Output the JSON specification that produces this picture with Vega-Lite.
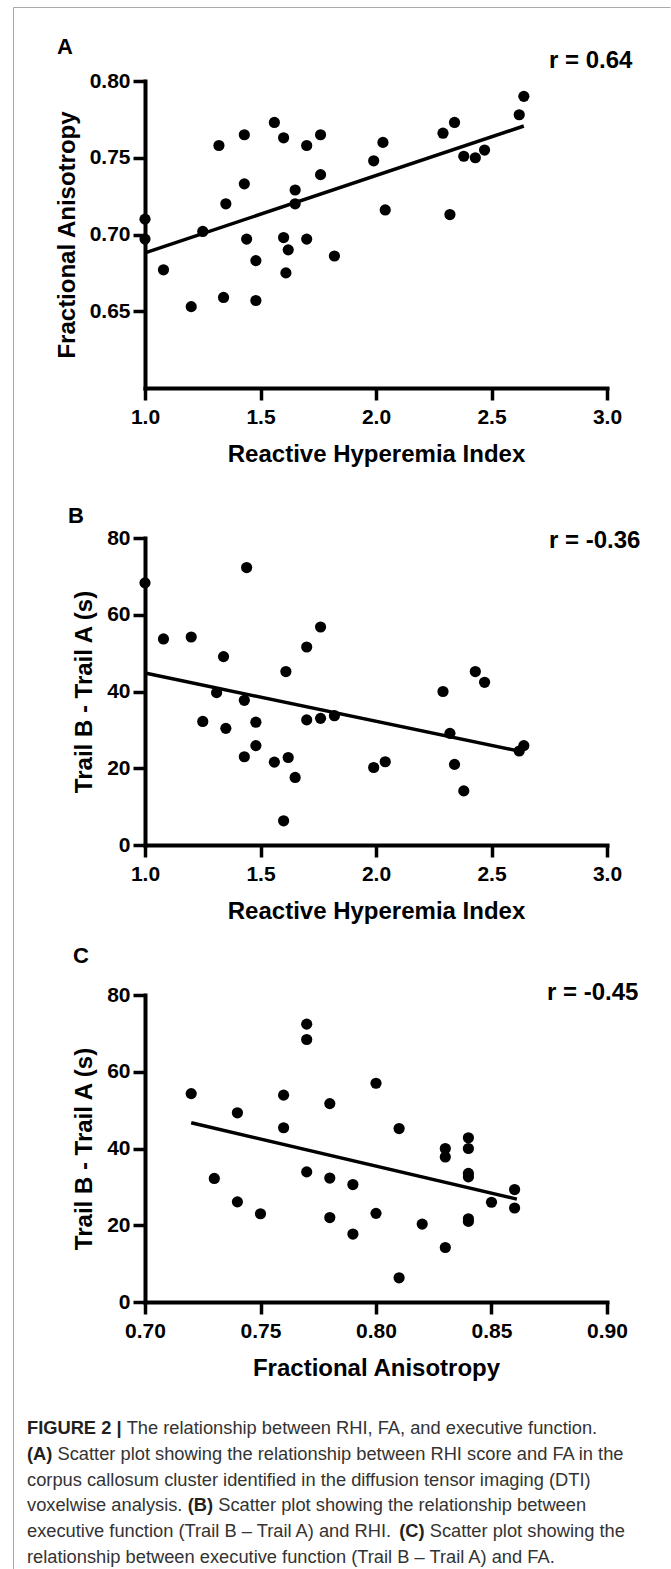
{
  "$schema": "https://vega.github.io/schema/vega-lite/v6.json",
  "background": "white",
  "padding": {"left": 13, "top": 6, "right": 0, "bottom": 0},
  "bounds": "flush",
  "spacing": 150,
  "config": {
    "font": "Liberation Sans",
    "view": {"stroke": null},
    "axis": {
      "domainColor": "black", "domainWidth": 4, "domainCap": "square",
      "tickColor": "black", "tickWidth": 3.5, "tickSize": 12,
      "labelFont": "Liberation Sans", "labelFontSize": 21, "labelFontWeight": "bold", "labelColor": "black",
      "titleFont": "Liberation Sans", "titleFontSize": 24, "titleFontWeight": "bold", "titleColor": "black",
      "grid": false, "labelFlush": false, "labelOverlap": false
    },
    "axisX": {"labelPadding": 6, "titlePadding": 15},
    "axisY": {"labelPadding": 3, "titlePadding": 10}
  },
  "datasets": {
    "a": [
      {"rhi": 1.0, "fa": 0.710}, {"rhi": 1.0, "fa": 0.697}, {"rhi": 1.08, "fa": 0.677}, {"rhi": 1.20, "fa": 0.653},
      {"rhi": 1.25, "fa": 0.702}, {"rhi": 1.32, "fa": 0.758}, {"rhi": 1.35, "fa": 0.720}, {"rhi": 1.34, "fa": 0.659},
      {"rhi": 1.43, "fa": 0.765}, {"rhi": 1.43, "fa": 0.733}, {"rhi": 1.44, "fa": 0.697}, {"rhi": 1.48, "fa": 0.683},
      {"rhi": 1.48, "fa": 0.657}, {"rhi": 1.56, "fa": 0.773}, {"rhi": 1.60, "fa": 0.763}, {"rhi": 1.60, "fa": 0.698},
      {"rhi": 1.62, "fa": 0.690}, {"rhi": 1.61, "fa": 0.675}, {"rhi": 1.65, "fa": 0.729}, {"rhi": 1.65, "fa": 0.720},
      {"rhi": 1.70, "fa": 0.758}, {"rhi": 1.70, "fa": 0.697}, {"rhi": 1.76, "fa": 0.765}, {"rhi": 1.76, "fa": 0.739},
      {"rhi": 1.82, "fa": 0.686}, {"rhi": 1.99, "fa": 0.748}, {"rhi": 2.03, "fa": 0.760}, {"rhi": 2.04, "fa": 0.716},
      {"rhi": 2.29, "fa": 0.766}, {"rhi": 2.34, "fa": 0.773}, {"rhi": 2.32, "fa": 0.713}, {"rhi": 2.38, "fa": 0.751},
      {"rhi": 2.43, "fa": 0.750}, {"rhi": 2.47, "fa": 0.755}, {"rhi": 2.62, "fa": 0.778}, {"rhi": 2.64, "fa": 0.790}
    ],
    "fitA": [{"rhi": 1.0, "fa": 0.688}, {"rhi": 2.64, "fa": 0.7707}],
    "b": [
      {"rhi": 1.0, "trail": 68.3}, {"rhi": 1.08, "trail": 53.7}, {"rhi": 1.20, "trail": 54.2}, {"rhi": 1.25, "trail": 32.2},
      {"rhi": 1.31, "trail": 39.7}, {"rhi": 1.34, "trail": 49.1}, {"rhi": 1.35, "trail": 30.4}, {"rhi": 1.44, "trail": 72.3},
      {"rhi": 1.43, "trail": 37.7}, {"rhi": 1.43, "trail": 23.0}, {"rhi": 1.48, "trail": 32.0}, {"rhi": 1.48, "trail": 25.9},
      {"rhi": 1.56, "trail": 21.6}, {"rhi": 1.61, "trail": 45.2}, {"rhi": 1.62, "trail": 22.8}, {"rhi": 1.60, "trail": 6.3},
      {"rhi": 1.65, "trail": 17.6}, {"rhi": 1.70, "trail": 32.6}, {"rhi": 1.70, "trail": 51.6}, {"rhi": 1.76, "trail": 56.8},
      {"rhi": 1.76, "trail": 33.0}, {"rhi": 1.82, "trail": 33.7}, {"rhi": 1.99, "trail": 20.2}, {"rhi": 2.04, "trail": 21.7},
      {"rhi": 2.29, "trail": 40.0}, {"rhi": 2.32, "trail": 29.1}, {"rhi": 2.34, "trail": 21.0}, {"rhi": 2.38, "trail": 14.1},
      {"rhi": 2.43, "trail": 45.2}, {"rhi": 2.47, "trail": 42.4}, {"rhi": 2.62, "trail": 24.5}, {"rhi": 2.64, "trail": 25.9}
    ],
    "fitB": [{"rhi": 1.0, "trail": 44.8}, {"rhi": 2.64, "trail": 24.2}],
    "c": [
      {"fa": 0.72, "trail": 54.3}, {"fa": 0.73, "trail": 32.2}, {"fa": 0.74, "trail": 49.3}, {"fa": 0.74, "trail": 26.1},
      {"fa": 0.75, "trail": 23.0}, {"fa": 0.76, "trail": 53.9}, {"fa": 0.76, "trail": 45.4}, {"fa": 0.77, "trail": 72.4},
      {"fa": 0.77, "trail": 68.4}, {"fa": 0.77, "trail": 33.9}, {"fa": 0.78, "trail": 51.7}, {"fa": 0.78, "trail": 32.3},
      {"fa": 0.78, "trail": 22.0}, {"fa": 0.79, "trail": 30.6}, {"fa": 0.79, "trail": 17.7}, {"fa": 0.80, "trail": 57.0},
      {"fa": 0.80, "trail": 23.1}, {"fa": 0.81, "trail": 45.2}, {"fa": 0.81, "trail": 6.3}, {"fa": 0.82, "trail": 20.3},
      {"fa": 0.83, "trail": 40.0}, {"fa": 0.83, "trail": 37.8}, {"fa": 0.83, "trail": 14.2}, {"fa": 0.84, "trail": 42.8},
      {"fa": 0.84, "trail": 40.0}, {"fa": 0.84, "trail": 33.5}, {"fa": 0.84, "trail": 32.6}, {"fa": 0.84, "trail": 21.7},
      {"fa": 0.84, "trail": 21.0}, {"fa": 0.85, "trail": 26.0}, {"fa": 0.86, "trail": 29.3}, {"fa": 0.86, "trail": 24.5}
    ],
    "fitC": [{"fa": 0.72, "trail": 46.7}, {"fa": 0.861, "trail": 26.8}],
    "labA": [{"panel": "A", "label": "r = 0.64"}],
    "labB": [{"panel": "B", "label": "r = -0.36"}],
    "labC": [{"panel": "C", "label": "r = -0.45"}],
    "frame": [{"part": "border"}],
    "caption": [
      {"line": 1, "seg": "b0", "text": "FIGURE 2 |"},
      {"line": 1, "seg": "r1", "text": "The relationship between RHI, FA, and executive function."},
      {"line": 2, "seg": "b0", "text": "(A)"},
      {"line": 2, "seg": "r2", "text": "Scatter plot showing the relationship between RHI score and FA in the"},
      {"line": 3, "seg": "r0", "text": "corpus callosum cluster identified in the diffusion tensor imaging (DTI)"},
      {"line": 4, "seg": "r0", "text": "voxelwise analysis."},
      {"line": 4, "seg": "b4", "text": "(B)"},
      {"line": 4, "seg": "r4", "text": "Scatter plot showing the relationship between"},
      {"line": 5, "seg": "r0", "text": "executive function (Trail B – Trail A) and RHI."},
      {"line": 5, "seg": "b5", "text": "(C)"},
      {"line": 5, "seg": "r5", "text": "Scatter plot showing the"},
      {"line": 6, "seg": "r0", "text": "relationship between executive function (Trail B – Trail A) and FA."}
    ]
  },
  "vconcat": [
    {
      "width": 462, "height": 307,
      "layer": [
        {"data": {"name": "frame"}, "mark": {"type": "rule", "color": "#a8a8a8", "strokeWidth": 1},
         "encoding": {"x": {"datum": 0.43074, "type": "quantitative"}, "x2": {"datum": 3.27489}, "y": {"datum": 0.847883, "type": "quantitative"}}},
        {"data": {"name": "frame"}, "mark": {"type": "rule", "color": "#a8a8a8", "strokeWidth": 1},
         "encoding": {"x": {"datum": 0.43074, "type": "quantitative"}, "y": {"datum": 0.847883, "type": "quantitative"}, "y2": {"datum": 0.50228}}},
        {"data": {"name": "a"}, "mark": {"type": "circle", "size": 125, "color": "black", "opacity": 1},
         "encoding": {
           "x": {"field": "rhi", "type": "quantitative", "scale": {"domain": [1, 3], "nice": false, "zero": false},
                 "axis": {"values": [1, 1.5, 2, 2.5, 3], "format": ".1f", "title": "Reactive Hyperemia Index"}},
           "y": {"field": "fa", "type": "quantitative", "scale": {"domain": [0.6, 0.8], "nice": false, "zero": false},
                 "axis": {"values": [0.65, 0.7, 0.75, 0.8], "format": ".2f", "title": "Fractional Anisotropy"}}
         }},
        {"data": {"name": "fitA"}, "mark": {"type": "line", "color": "black", "strokeWidth": 3.5},
         "encoding": {"x": {"field": "rhi", "type": "quantitative"}, "y": {"field": "fa", "type": "quantitative"}}},
        {"data": {"name": "labA"},
         "mark": {"type": "text", "align": "left", "baseline": "alphabetic", "fontSize": 24, "fontWeight": "bold", "color": "black", "dx": -58, "dy": -13},
         "encoding": {"x": {"datum": 3, "type": "quantitative"}, "y": {"datum": 0.8, "type": "quantitative"}, "text": {"field": "label", "type": "nominal"}}},
        {"data": {"name": "labA"},
         "mark": {"type": "text", "align": "left", "baseline": "alphabetic", "fontSize": 22, "fontWeight": "bold", "color": "black", "dx": -88, "dy": -27},
         "encoding": {"x": {"datum": 1, "type": "quantitative"}, "y": {"datum": 0.8, "type": "quantitative"}, "text": {"field": "panel", "type": "nominal"}}}
      ]
    },
    {
      "width": 462, "height": 307,
      "layer": [
        {"data": {"name": "frame"}, "mark": {"type": "rule", "color": "#a8a8a8", "strokeWidth": 1},
         "encoding": {"x": {"datum": 0.43074, "type": "quantitative"}, "y": {"datum": 80, "type": "quantitative"}, "y2": {"datum": -39.088}}},
        {"data": {"name": "b"}, "mark": {"type": "circle", "size": 125, "color": "black", "opacity": 1},
         "encoding": {
           "x": {"field": "rhi", "type": "quantitative", "scale": {"domain": [1, 3], "nice": false, "zero": false},
                 "axis": {"values": [1, 1.5, 2, 2.5, 3], "format": ".1f", "title": "Reactive Hyperemia Index"}},
           "y": {"field": "trail", "type": "quantitative", "scale": {"domain": [0, 80], "nice": false},
                 "axis": {"values": [0, 20, 40, 60, 80], "format": "d", "title": "Trail B - Trail A (s)"}}
         }},
        {"data": {"name": "fitB"}, "mark": {"type": "line", "color": "black", "strokeWidth": 3.5},
         "encoding": {"x": {"field": "rhi", "type": "quantitative"}, "y": {"field": "trail", "type": "quantitative"}}},
        {"data": {"name": "labB"},
         "mark": {"type": "text", "align": "left", "baseline": "alphabetic", "fontSize": 24, "fontWeight": "bold", "color": "black", "dx": -58, "dy": 10},
         "encoding": {"x": {"datum": 3, "type": "quantitative"}, "y": {"datum": 80, "type": "quantitative"}, "text": {"field": "label", "type": "nominal"}}},
        {"data": {"name": "labB"},
         "mark": {"type": "text", "align": "left", "baseline": "alphabetic", "fontSize": 22, "fontWeight": "bold", "color": "black", "dx": -77, "dy": -15},
         "encoding": {"x": {"datum": 1, "type": "quantitative"}, "y": {"datum": 80, "type": "quantitative"}, "text": {"field": "panel", "type": "nominal"}}}
      ]
    },
    {
      "width": 462, "height": 307,
      "layer": [
        {
          "layer": [
            {"data": {"name": "frame"}, "mark": {"type": "rule", "color": "#a8a8a8", "strokeWidth": 1},
             "encoding": {"x": {"datum": 0.643074, "type": "quantitative"}, "y": {"datum": 80, "type": "quantitative"}, "y2": {"datum": -69.71}}},
            {"data": {"name": "c"}, "mark": {"type": "circle", "size": 125, "color": "black", "opacity": 1},
             "encoding": {
               "x": {"field": "fa", "type": "quantitative", "scale": {"domain": [0.7, 0.9], "nice": false, "zero": false},
                     "axis": {"values": [0.7, 0.75, 0.8, 0.85, 0.9], "format": ".2f", "title": "Fractional Anisotropy"}},
               "y": {"field": "trail", "type": "quantitative", "scale": {"domain": [0, 80], "nice": false},
                     "axis": {"values": [0, 20, 40, 60, 80], "format": "d", "title": "Trail B - Trail A (s)"}}
             }},
            {"data": {"name": "fitC"}, "mark": {"type": "line", "color": "black", "strokeWidth": 3.5},
             "encoding": {"x": {"field": "fa", "type": "quantitative"}, "y": {"field": "trail", "type": "quantitative"}}},
            {"data": {"name": "labC"},
             "mark": {"type": "text", "align": "left", "baseline": "alphabetic", "fontSize": 24, "fontWeight": "bold", "color": "black", "dx": -60, "dy": 5},
             "encoding": {"x": {"datum": 0.9, "type": "quantitative"}, "y": {"datum": 80, "type": "quantitative"}, "text": {"field": "label", "type": "nominal"}}},
            {"data": {"name": "labC"},
             "mark": {"type": "text", "align": "left", "baseline": "alphabetic", "fontSize": 22, "fontWeight": "bold", "color": "black", "dx": -72, "dy": -32},
             "encoding": {"x": {"datum": 0.7, "type": "quantitative"}, "y": {"datum": 80, "type": "quantitative"}, "text": {"field": "panel", "type": "nominal"}}}
          ]
        },
        {
          "data": {"name": "caption"},
          "encoding": {
            "x": {"datum": 0.7, "type": "quantitative"},
            "y": {"field": "line", "type": "ordinal", "axis": null, "scale": {"type": "point", "padding": 0, "range": [439, 568]}},
            "text": {"field": "text", "type": "nominal"}
          },
          "layer": [
            {"transform": [{"filter": "datum.seg === 'r0'"}],
             "mark": {"type": "text", "align": "left", "baseline": "alphabetic", "fontSize": 18.3, "fontWeight": "normal", "color": "#333333", "dx": -118}},
            {"transform": [{"filter": "datum.seg === 'b0'"}],
             "mark": {"type": "text", "align": "left", "baseline": "alphabetic", "fontSize": 18.3, "fontWeight": "bold", "color": "#231f20", "dx": -118}},
            {"transform": [{"filter": "datum.seg === 'r1'"}],
             "mark": {"type": "text", "align": "left", "baseline": "alphabetic", "fontSize": 18.3, "fontWeight": "normal", "color": "#333333", "dx": -18.3}},
            {"transform": [{"filter": "datum.seg === 'r2'"}],
             "mark": {"type": "text", "align": "left", "baseline": "alphabetic", "fontSize": 18.3, "fontWeight": "normal", "color": "#333333", "dx": -87.5}},
            {"transform": [{"filter": "datum.seg === 'b4'"}],
             "mark": {"type": "text", "align": "left", "baseline": "alphabetic", "fontSize": 18.3, "fontWeight": "bold", "color": "#231f20", "dx": 42.7}},
            {"transform": [{"filter": "datum.seg === 'r4'"}],
             "mark": {"type": "text", "align": "left", "baseline": "alphabetic", "fontSize": 18.3, "fontWeight": "normal", "color": "#333333", "dx": 73.2}},
            {"transform": [{"filter": "datum.seg === 'b5'"}],
             "mark": {"type": "text", "align": "left", "baseline": "alphabetic", "fontSize": 18.3, "fontWeight": "bold", "color": "#231f20", "dx": 254.2}},
            {"transform": [{"filter": "datum.seg === 'r5'"}],
             "mark": {"type": "text", "align": "left", "baseline": "alphabetic", "fontSize": 18.3, "fontWeight": "normal", "color": "#333333", "dx": 284.7}}
          ]
        }
      ],
      "resolve": {"scale": {"y": "independent"}}
    }
  ]
}
